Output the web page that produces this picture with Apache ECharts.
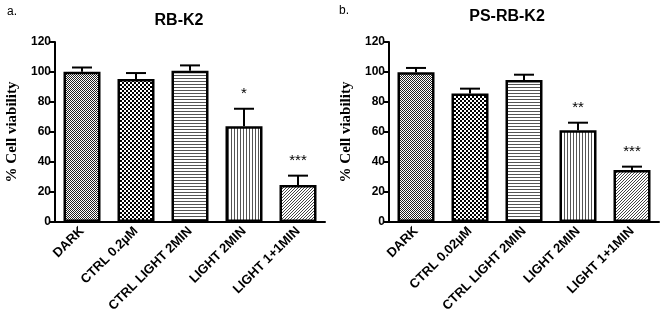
<!DOCTYPE html>
<html>
<head>
<meta charset="utf-8">
<script src="https://cdn.jsdelivr.net/npm/echarts@6/dist/echarts.min.js"></script>
<style>
  html, body { margin: 0; padding: 0; background: #fff; }
  #chart { width: 661px; height: 324px; }
</style>
</head>
<body>
<div id="chart"></div>
<script>
// data
var catsA = ["DARK", "CTRL 0.2µM", "CTRL LIGHT 2MIN", "LIGHT 2MIN", "LIGHT 1+1MIN"];
var catsB = ["DARK", "CTRL 0.02µM", "CTRL LIGHT 2MIN", "LIGHT 2MIN", "LIGHT 1+1MIN"];
var meanA = [100.2, 95.3, 100.9, 63.8, 24.7];
var semA = [2.8, 4.0, 3.5, 11.7, 6.2];
var sigA = ["", "", "", "*", "***"];
var meanB = [99.8, 85.6, 94.7, 61.1, 34.7];
var semB = [2.9, 3.3, 3.5, 5.1, 2.2];
var sigB = ["", "", "", "**", "***"];
var yTicks = [0, 20, 40, 60, 80, 100, 120];

var font = "Liberation Sans, Arial, sans-serif";

// fill textures for the bars
function makePattern(type) {
  var c = document.createElement("canvas");
  var ctx;
  if (type === "fine") {
    c.width = 2; c.height = 2;
    ctx = c.getContext("2d");
    ctx.fillStyle = "#fff"; ctx.fillRect(0, 0, 2, 2);
    ctx.fillStyle = "#222"; ctx.fillRect(0, 0, 1, 1); ctx.fillRect(1, 1, 1, 1);
  } else if (type === "check") {
    c.width = 4; c.height = 4;
    ctx = c.getContext("2d");
    ctx.fillStyle = "#fff"; ctx.fillRect(0, 0, 4, 4);
    ctx.fillStyle = "#000"; ctx.fillRect(0, 0, 2, 2); ctx.fillRect(2, 2, 2, 2);
  } else if (type === "hline") {
    c.width = 3; c.height = 3;
    ctx = c.getContext("2d");
    ctx.fillStyle = "#fff"; ctx.fillRect(0, 0, 3, 3);
    ctx.fillStyle = "#555"; ctx.fillRect(0, 0, 3, 1);
  } else if (type === "vline") {
    c.width = 3; c.height = 3;
    ctx = c.getContext("2d");
    ctx.fillStyle = "#fff"; ctx.fillRect(0, 0, 3, 3);
    ctx.fillStyle = "#555"; ctx.fillRect(0, 0, 1, 3);
  } else {
    c.width = 3; c.height = 3;
    ctx = c.getContext("2d");
    ctx.fillStyle = "#fff"; ctx.fillRect(0, 0, 3, 3);
    ctx.fillStyle = "#444";
    ctx.fillRect(2, 0, 1, 1); ctx.fillRect(1, 1, 1, 1); ctx.fillRect(0, 2, 1, 1);
  }
  return { image: c, repeat: "repeat" };
}
var patterns = ["fine", "check", "hline", "vline", "diag"].map(makePattern);

function barData(values) {
  return values.map(function (v, i) {
    return { value: v, itemStyle: { color: patterns[i] } };
  });
}

function errData(means, sems, sigs) {
  return means.map(function (m, i) {
    return [i, m, m + sems[i], sigs[i]];
  });
}

function renderErr(params, api) {
  var base = api.coord([api.value(0), api.value(1)]);
  var top = api.coord([api.value(0), api.value(2)]);
  var half = 10;
  var sig = api.value(3);
  var children = [
    { type: "line", shape: { x1: base[0], y1: base[1], x2: top[0], y2: top[1] },
      style: { stroke: "#000", lineWidth: 2 } },
    { type: "line", shape: { x1: top[0] - half, y1: top[1], x2: top[0] + half, y2: top[1] },
      style: { stroke: "#000", lineWidth: 2 } }
  ];
  if (sig) {
    children.push({
      type: "text",
      style: { text: sig, x: top[0], y: top[1] - 7, align: "center", verticalAlign: "bottom",
        font: "15px " + font, fill: "#000" }
    });
  }
  return { type: "group", children: children };
}

function xAxisFor(cats, idx) {
  return {
    type: "category",
    gridIndex: idx,
    data: cats,
    axisLine: { lineStyle: { color: "#000", width: 2 } },
    axisTick: { alignWithLabel: true, length: 5, lineStyle: { color: "#000", width: 2 } },
    axisLabel: { rotate: 45, margin: 7, color: "#000", fontFamily: font, fontWeight: "bold", fontSize: 13 }
  };
}

function yAxisFor(idx) {
  return {
    type: "value",
    gridIndex: idx,
    min: yTicks[0],
    max: yTicks[yTicks.length - 1],
    interval: yTicks[1] - yTicks[0],
    name: "% Cell viability",
    nameLocation: "middle",
    nameGap: 35,
    nameTextStyle: { fontFamily: "Liberation Serif, Times New Roman, serif", fontWeight: "bold", fontSize: 15, color: "#000" },
    splitLine: { show: false },
    axisLine: { show: true, lineStyle: { color: "#000", width: 2 } },
    axisTick: { show: true, length: 5, lineStyle: { color: "#000", width: 2 } },
    axisLabel: { color: "#000", fontFamily: font, fontWeight: "bold", fontSize: 12, margin: 4 }
  };
}

var myChart = echarts.init(document.getElementById("chart"));
myChart.setOption({
  animation: false,
  title: [
    { text: "RB-K2", left: 174, top: 8, textAlign: "center",
      textStyle: { fontFamily: font, fontWeight: "bold", fontSize: 16, color: "#000" } },
    { text: "PS-RB-K2", left: 502, top: 4, textAlign: "center",
      textStyle: { fontFamily: font, fontWeight: "bold", fontSize: 16, color: "#000" } },
    { text: "a.", left: 2, top: 1,
      textStyle: { fontFamily: font, fontWeight: "normal", fontSize: 12, color: "#000" } },
    { text: "b.", left: 334, top: 0,
      textStyle: { fontFamily: font, fontWeight: "normal", fontSize: 12, color: "#000" } }
  ],
  grid: [
    { left: 55, top: 42, width: 270, height: 180 },
    { left: 389, top: 42, width: 270, height: 180 }
  ],
  xAxis: [xAxisFor(catsA, 0), xAxisFor(catsB, 1)],
  yAxis: [yAxisFor(0), yAxisFor(1)],
  series: [
    { type: "bar", xAxisIndex: 0, yAxisIndex: 0, barWidth: 37, data: barData(meanA),
      itemStyle: { borderColor: "#000", borderWidth: 2.5 } },
    { type: "custom", xAxisIndex: 0, yAxisIndex: 0, renderItem: renderErr,
      data: errData(meanA, semA, sigA), z: 3 },
    { type: "bar", xAxisIndex: 1, yAxisIndex: 1, barWidth: 37, data: barData(meanB),
      itemStyle: { borderColor: "#000", borderWidth: 2.5 } },
    { type: "custom", xAxisIndex: 1, yAxisIndex: 1, renderItem: renderErr,
      data: errData(meanB, semB, sigB), z: 3 }
  ]
});
</script>
</body>
</html>
